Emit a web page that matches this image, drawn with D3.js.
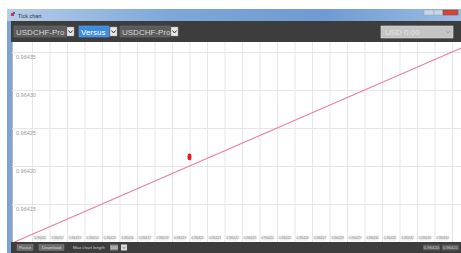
<!DOCTYPE html>
<html><head><meta charset="utf-8">
<script src="https://cdn.jsdelivr.net/npm/d3@7"></script>
<style>html,body{margin:0;padding:0;background:#fff;overflow:hidden}svg{display:block;font-family:"Liberation Sans",Arial,sans-serif}</style>
</head><body>
<svg id="c" width="461" height="253"></svg>
<script>
// ---- data ----
const title = "Tick chart";
const symbolA = "USDCHF-Pro";
const versusLabel = "Versus";
const symbolB = "USDCHF-Pro";
const balanceLabel = "USD 0.00";
const yTicks = [0.96415, 0.96420, 0.96425, 0.96430, 0.96435];
const xTicks = [0.96411,0.96412,0.96413,0.96414,0.96415,0.96416,0.96417,0.96418,0.96419,0.96420,0.96421,0.96422,0.96423,0.96424,0.96425,0.96426,0.96427,0.96428,0.96429,0.96430,0.96431,0.96432,0.96433,0.96434,0.96435];
const xLabels = [0.96411,0.96412,0.96413,0.96414,0.96415,0.96416,0.96417,0.96418,0.96419,0.96420,0.96421,0.96422,0.96423,0.96424,0.96425,0.96426,0.96427,0.96428,0.96429,0.96430,0.96431,0.96432,0.96433,0.96434];
const lineX = [0.96410, 0.96437];
const lineY = [0.96410, 0.96437];
const pointX = [0.96420];
const pointY = [0.964212];
const bottomButtons = ["Pause", "Download"];
const maxLenLabel = "Max chart length";
const maxLenValue = "100";
const quoteLabels = ["0.96420", "0.96421"];

// ---- drawing ----
const svg = d3.select("#c");
const W = 461, H = 253;
const plot = {l: 12, r: 461, t: 42, b: 242};

// window chrome
const defs = svg.append("defs");
const tg = defs.append("linearGradient").attr("id","tb").attr("x1",0).attr("x2",1);
tg.append("stop").attr("offset","0").attr("stop-color","#b6cde9");
tg.append("stop").attr("offset","0.35").attr("stop-color","#7fa8d9");
tg.append("stop").attr("offset","0.7").attr("stop-color","#6f9ad3");
tg.append("stop").attr("offset","1").attr("stop-color","#9dbde3");
svg.append("rect").attr("x",7).attr("y",9).attr("width",W-7).attr("height",H-9).attr("fill","#7ea4d3");
svg.append("rect").attr("x",7).attr("y",9).attr("width",W-7).attr("height",12).attr("fill","url(#tb)");
// icon + title
svg.append("rect").attr("x",11).attr("y",13).attr("width",3).attr("height",3).attr("fill","#d33");
svg.append("rect").attr("x",13).attr("y",12).attr("width",2).attr("height",2).attr("fill","#36c");
svg.append("text").attr("x",18).attr("y",18).attr("font-size",5.5).attr("fill","#333").text(title);
// window buttons
svg.append("rect").attr("x",424).attr("y",10).attr("width",10).attr("height",5).attr("fill","#c9d6e6").attr("stroke","#8ca3c2").attr("stroke-width",0.5);
svg.append("rect").attr("x",434).attr("y",10).attr("width",9).attr("height",5).attr("fill","#c9d6e6").attr("stroke","#8ca3c2").attr("stroke-width",0.5);
svg.append("rect").attr("x",443).attr("y",10).attr("width",15).attr("height",5).attr("fill","#d0463a").attr("stroke","#9a3a30").attr("stroke-width",0.5);

// toolbar
svg.append("rect").attr("x",11).attr("y",21).attr("width",W-11).attr("height",21).attr("fill","#3d3d3d");
function dropdown(x, w, label, hl){
  svg.append("rect").attr("x",x).attr("y",26).attr("width",w).attr("height",11)
    .attr("fill", hl ? "#3d8ee0" : "#5b5b5b").attr("stroke", hl ? "#5aa0e6" : "#707070").attr("stroke-width",0.6);
  svg.append("text").attr("x",x+2).attr("y",34.5).attr("font-size",8).attr("fill", hl ? "#fff" : "#d8d8d8").text(label);
  svg.append("rect").attr("x",x+w+1).attr("y",27).attr("width",7).attr("height",9).attr("fill","#e8e8e8").attr("stroke","#999").attr("stroke-width",0.5);
  svg.append("path").attr("d",`M${x+w+2.5},30.5 L${x+w+4.5},33 L${x+w+6.5},30.5`).attr("fill","none").attr("stroke","#333").attr("stroke-width",1);
}
dropdown(14, 52, symbolA, false);
dropdown(79, 30, versusLabel, true);
dropdown(120, 50, symbolB, false);
svg.append("rect").attr("x",381).attr("y",26).attr("width",72).attr("height",12).attr("fill","#c4c4c4").attr("stroke","#ddd").attr("stroke-width",0.6);
svg.append("text").attr("x",385).attr("y",35).attr("font-size",8).attr("fill","#e4e4e4").text(balanceLabel);
svg.append("path").attr("d","M446,31 L448,33 L450,31").attr("fill","none").attr("stroke","#999").attr("stroke-width",0.7);

// plot area
svg.append("rect").attr("x",plot.l).attr("y",plot.t).attr("width",plot.r-plot.l).attr("height",plot.b-plot.t).attr("fill","#fff");
svg.append("line").attr("x1",plot.l+0.5).attr("x2",plot.l+0.5).attr("y1",plot.t).attr("y2",plot.b).attr("stroke","#b9b9b9");

const x = d3.scaleLinear().domain([0.96411, 0.96435]).range([32, 452]);
const y = d3.scaleLinear().domain([0.96415, 0.96435]).range([204, 52]);

const g = svg.append("g");
// x grid
g.append("g").attr("transform",`translate(0,${plot.b})`)
  .call(d3.axisBottom(x).tickValues(xTicks).tickSize(-(plot.b-plot.t)).tickFormat(""))
  .call(s=>{s.select(".domain").remove(); s.selectAll("line").attr("stroke","#e6e6e6").attr("stroke-width",1);});
// y grid
g.append("g").attr("transform",`translate(${plot.l},0)`)
  .call(d3.axisRight(y).tickValues(yTicks).tickSize(plot.r-plot.l).tickFormat(""))
  .call(s=>{s.select(".domain").remove(); s.selectAll("line").attr("stroke","#e6e6e6").attr("stroke-width",1);});
// y labels
g.append("g").selectAll("text").data(yTicks).join("text")
  .attr("x",16).attr("y",d=>y(d)+7).attr("font-size",5.5).attr("fill","#9a9a9a").text(d=>d3.format(".5f")(d));
// x labels
const xl = g.append("g").selectAll("g").data(xLabels).join("g").attr("transform",d=>`translate(${x(d)+2.5},235.5)`);
xl.append("rect").attr("width",11).attr("height",5).attr("fill","#ececec");
xl.append("text").attr("x",5.5).attr("y",3.8).attr("text-anchor","middle").attr("font-size",3.6).attr("fill","#888").text(d=>d3.format(".5f")(d));

// clip
defs.append("clipPath").attr("id","pc").append("rect").attr("x",plot.l+1).attr("y",plot.t).attr("width",plot.r-plot.l).attr("height",plot.b-plot.t);
const lineData = lineX.map((v,i)=>[v,lineY[i]]);
svg.append("path").datum(lineData).attr("clip-path","url(#pc)")
  .attr("d", d3.line().x(d=>x(d[0])).y(d=>y(d[1])))
  .attr("fill","none").attr("stroke","#ea83a3").attr("stroke-width",1.2);
svg.append("g").selectAll("ellipse").data(pointX.map((v,i)=>[v,pointY[i]])).join("ellipse")
  .attr("cx",d=>x(d[0])).attr("cy",d=>y(d[1])).attr("rx",2).attr("ry",3.4).attr("fill","#e41b1b");

// bottom bar
svg.append("rect").attr("x",11).attr("y",242).attr("width",W-11).attr("height",11).attr("fill","#3d3d3d");
let bx = 17;
bottomButtons.forEach((b,i)=>{
  const w = i===0 ? 16 : 25;
  svg.append("rect").attr("x",bx).attr("y",244.5).attr("width",w).attr("height",6).attr("fill","#6e6e6e").attr("stroke","#8a8a8a").attr("stroke-width",0.4);
  svg.append("text").attr("x",bx+w/2).attr("y",249.3).attr("text-anchor","middle").attr("font-size",4.3).attr("fill","#ddd").text(b);
  bx += w + 6;
});
svg.append("text").attr("x",73).attr("y",249.3).attr("font-size",4.3).attr("fill","#cfcfcf").text(maxLenLabel);
svg.append("rect").attr("x",110).attr("y",244.5).attr("width",8).attr("height",6).attr("fill","#8a8a8a");
svg.append("text").attr("x",114).attr("y",249.3).attr("text-anchor","middle").attr("font-size",4.3).attr("fill","#eee").text(maxLenValue);
svg.append("rect").attr("x",121).attr("y",244.5).attr("width",6).attr("height",6).attr("fill","#ddd");
svg.append("path").attr("d","M122.5,246.8 L124,248.5 L125.5,246.8").attr("fill","none").attr("stroke","#444").attr("stroke-width",0.6);
quoteLabels.forEach((q,i)=>{
  const qx = 423 + i*19;
  svg.append("rect").attr("x",qx).attr("y",244.5).attr("width",17).attr("height",6).attr("fill","#5a5a5a");
  svg.append("text").attr("x",qx+8.5).attr("y",249.3).attr("text-anchor","middle").attr("font-size",4.3).attr("fill","#d0d0d0").text(q);
});
</script>
</body></html>
